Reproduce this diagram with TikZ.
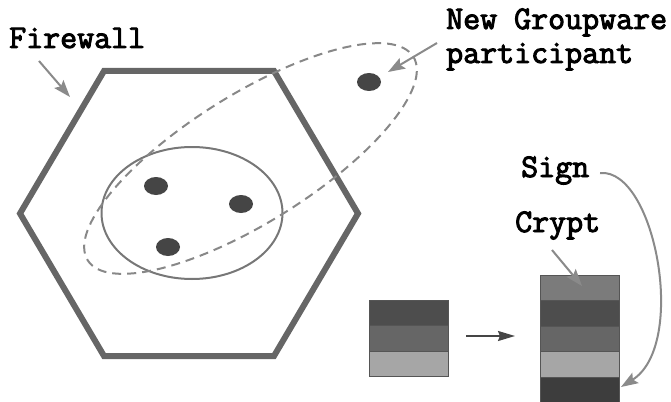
\documentclass[tikz,border=0pt]{standalone}
\usepackage{fontspec}
\newfontfamily\tagfont{Latin Modern Mono}[FakeBold=3]
\usetikzlibrary{arrows.meta,shapes.geometric}
\definecolor{wallgray}{HTML}{666666}
\definecolor{ringgray}{HTML}{777777}
\definecolor{dashgray}{HTML}{888888}
\definecolor{pointergray}{HTML}{8A8A8A}
\definecolor{dotgray}{HTML}{454545}
\definecolor{bandA}{HTML}{4D4D4D}
\definecolor{bandB}{HTML}{666666}
\definecolor{bandC}{HTML}{A6A6A6}
\definecolor{bandTop}{HTML}{7B7B7B}
\definecolor{bandSig}{HTML}{3D3D3D}
\definecolor{bandEdge}{HTML}{555555}
\tikzset{
  lbl/.style={font=\tagfont\fontsize{33}{38}\selectfont, inner sep=0pt, anchor=base west},
  wall/.style={draw=wallgray, line width=6pt, line join=miter},
  ring/.style={draw=ringgray, line width=2pt},
  dashring/.style={draw=dashgray, line width=2pt, dash pattern=on 9pt off 6pt},
  member/.style={ellipse, fill=dotgray, minimum width=24pt, minimum height=18pt, inner sep=0pt},
  pointer/.style={draw=pointergray, line width=2pt, -{Stealth[length=17pt,width=12pt,inset=3pt]}},
  flow/.style={draw=dotgray, line width=2pt, -{Stealth[length=17pt,width=10pt,inset=2pt]}},
  band/.style={draw=bandEdge, line width=0.8pt}
}
\begin{document}
\begin{tikzpicture}[x=1pt,y=-1pt]
\useasboundingbox (0,0) rectangle (671,401);

% firewall hexagon
\coordinate (h1) at (20,213.5);
\coordinate (h2) at (104,71);
\coordinate (h3) at (274,71);
\coordinate (h4) at (358,213.5);
\coordinate (h5) at (274,356);
\coordinate (h6) at (104,356);
\draw[wall] (h1) -- (h2) -- (h3) -- (h4) -- (h5) -- (h6) -- cycle;

% existing group and extended group
\coordinate (group) at (192,213);
\draw[ring] (group) ellipse [x radius=90.5, y radius=66];
\coordinate (extgroup) at (250.5,158.5);
\draw[dashring, rotate around={32:(extgroup)}] (extgroup) ellipse [x radius=192, y radius=64];

% participants
\node[member] (p1) at (156,186) {};
\node[member] (p2) at (241,204) {};
\node[member] (p3) at (168,247) {};
\node[member] (p4) at (369,82) {};

% labels
\node[lbl] (fw) at (9,48) {Firewall};
\node[lbl] (ng) at (446,29) {New Groupware};
\node[lbl] (pa) at (446,63) {participant};
\node[lbl] (sign) at (521,177) {Sign};
\node[lbl] (crypt) at (515,232) {Crypt};

% plain message
\path[band, fill=bandA] (369,300) rectangle (448,325.5);
\path[band, fill=bandB] (369,325.5) rectangle (448,351);
\path[band, fill=bandC] (369,351) rectangle (448,376.5);

% crypted and signed message
\path[band, fill=bandTop] (540,275) rectangle (619,300.5);
\path[band, fill=bandA] (540,300.5) rectangle (619,326);
\path[band, fill=bandB] (540,326) rectangle (619,351.5);
\path[band, fill=bandC] (540,351.5) rectangle (619,377);
\path[band, fill=bandSig] (540,377) rectangle (619,404);

% connectors
\coordinate (fwtail) at (39,61);
\coordinate (fwtip) at (70,97);
\draw[pointer] (fwtail) -- (fwtip);

\coordinate (ngtail) at (437,43);
\coordinate (ngtip) at (388,72);
\draw[pointer] (ngtail) -- (ngtip);

\coordinate (crtail) at (552,250);
\coordinate (crtip) at (582,286);
\draw[pointer] (crtail) -- (crtip);

\coordinate (sgtail) at (600,173);
\coordinate (sgtip) at (621,387);
\draw[pointer] (sgtail) .. controls (655,168) and (688,345) .. (sgtip);

\coordinate (msgout) at (466,336);
\coordinate (msgin) at (515,336);
\draw[flow] (msgout) -- (msgin);
\end{tikzpicture}
\end{document}
